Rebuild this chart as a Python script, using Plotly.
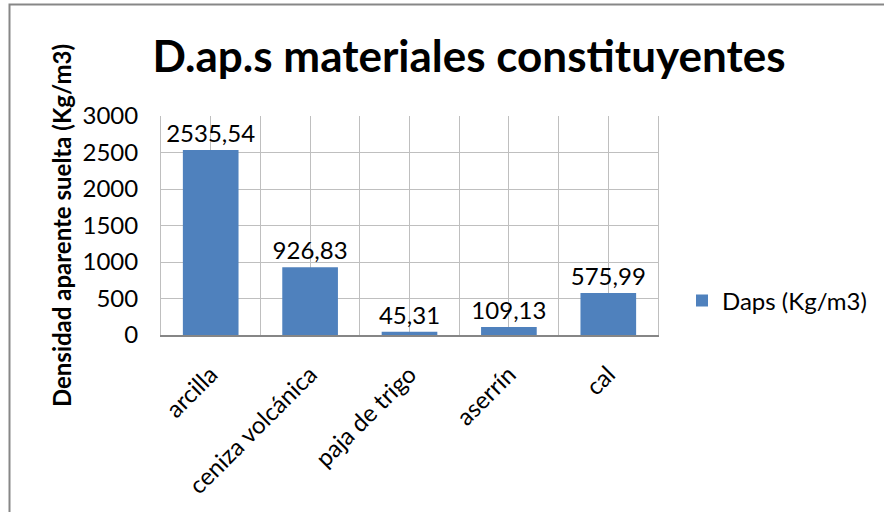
import plotly.graph_objects as go

# Datos
categorias = ["arcilla", "ceniza volcánica", "paja de trigo", "aserrín", "cal"]
daps = [2535.54, 926.83, 45.31, 109.13, 575.99]
serie = "Daps (Kg/m3)"

FONT = "Lato"
azul = "#4F81BD"
grid = "#BFBFBF"

pos = list(range(len(categorias)))
etiquetas = [f"{v:.2f}".replace(".", ",") for v in daps]

fig = go.Figure(go.Bar(
    x=pos,
    y=daps,
    name=serie,
    width=0.56,
    marker=dict(color=azul, line=dict(width=0)),
    text=etiquetas,
    textposition="outside",
    textfont=dict(family=FONT, size=24, color="black"),
    constraintext="none",
    cliponaxis=False,
    showlegend=True,
))

# Plot area in pixels (approx.)
W, H = 884, 512
L, R, T, B = 161, 226, 116, 177
pw, ph = W - L - R, H - T - B

def px(x):
    return (x - L) / pw

def py(y):
    return (H - B - y) / ph

# gridlines at category centres and boundaries (Excel style)
grid_vals, grid_txt = [], []
for i, c in enumerate(categorias):
    grid_vals += [i - 0.5, i]
    grid_txt += ["", c]
grid_vals.append(len(categorias) - 0.5)
grid_txt.append("")

fig.update_layout(
    width=W,
    height=H,
    margin=dict(l=L, r=R, t=T, b=B, autoexpand=False),
    paper_bgcolor="white",
    plot_bgcolor="white",
    font=dict(family=FONT, color="black"),
    title=dict(
        text="<b>D.ap.s materiales constituyentes</b>",
        font=dict(family=FONT, size=44, color="black"),
        xref="container", x=469 / W, xanchor="center",
        yref="container", y=1 - 57 / H, yanchor="middle",
    ),
    legend=dict(
        x=px(682), y=py(301), xanchor="left", yanchor="middle",
        font=dict(family=FONT, size=24, color="black"),
        bgcolor="rgba(0,0,0,0)",
    ),
    shapes=[dict(
        type="rect", xref="paper", yref="paper",
        x0=px(9.5), x1=px(W + 10), y0=py(H + 10), y1=py(4.5),
        line=dict(color="#878787", width=2),
        fillcolor="rgba(0,0,0,0)", layer="below",
    )],
)

fig.update_xaxes(
    range=[-0.5, len(categorias) - 0.5],
    tickmode="array",
    tickvals=grid_vals,
    ticktext=grid_txt,
    tickangle=-45,
    tickfont=dict(family=FONT, size=24, color="black"),
    ticklabelstandoff=14,
    showgrid=True,
    gridcolor=grid,
    gridwidth=1,
    showline=True, linecolor="#868686", linewidth=2, mirror=False,
    zeroline=False,
    automargin=False,
)

fig.update_yaxes(
    range=[0, 3000],
    tickmode="linear", tick0=0, dtick=500,
    tickfont=dict(family=FONT, size=24, color="black"),
    ticklabelstandoff=17,
    showgrid=True, gridcolor=grid, gridwidth=1,
    showline=True, linecolor=grid, linewidth=1, mirror=True,
    zeroline=False,
    automargin=False,
    title=dict(
        text="<b>Densidad aparente suelta (Kg/m3)</b>",
        font=dict(family=FONT, size=24, color="black"),
        standoff=4,
    ),
)

fig.write_html("out.html", config={"displayModeBar": False},
               post_script="document.body.style.margin='0';")
